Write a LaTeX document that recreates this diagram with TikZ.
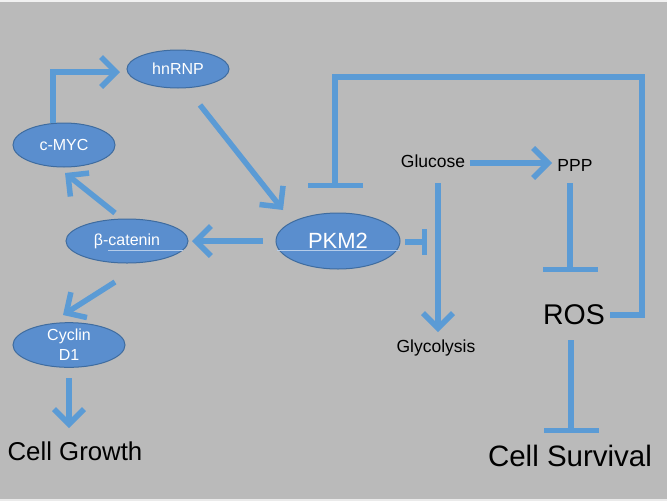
\documentclass[tikz,border=0pt]{standalone}
\usepackage{fontspec}
\setmainfont{Liberation Sans}
\usetikzlibrary{shapes.geometric,arrows.meta,calc}
\definecolor{bg}{HTML}{BABABA}
\definecolor{lineblue}{HTML}{5B9BD5}
\definecolor{ellfill}{HTML}{5A8ECE}
\definecolor{elledge}{HTML}{3F6C9F}
\tikzset{
  oval/.style={ellipse, fill=ellfill, draw=elledge, line width=1pt, inner sep=0pt,
    text=white, font=\fontsize{16}{20}\selectfont, align=center},
  lbl/.style={inner sep=0pt, text=black},
  arr/.style={draw=lineblue, line width=5.5pt, -{Straight Barb[length=15pt,width=30pt]}},
  inh/.style={draw=lineblue, line width=5.5pt, -{Bar[width=55pt]}},
  inhs/.style={draw=lineblue, line width=5.5pt, -{Bar[width=26pt]}},
  glint/.style={draw=white!55!ellfill, line width=0.8pt}
}
\begin{document}
\begin{tikzpicture}[x=1pt,y=-1pt]
\fill[bg] (0,0) rectangle (667,501);
\useasboundingbox (0,0) rectangle (667,501);
\draw[white!80!bg, line width=1.5pt] (0,0.75) -- (667,0.75);
\draw[white!70!bg, line width=2pt] (0,500) -- (667,500);

% nodes
\node[oval, minimum width=102pt, minimum height=38pt] (hnrnp) at (178,69) {hnRNP};
\node[oval, minimum width=102pt, minimum height=44pt] (cmyc) at (64,145) {c-MYC};
\node[oval, minimum width=122pt, minimum height=44pt] (beta) at (127,241) {β-catenin};
\node[oval, minimum width=112pt, minimum height=44pt] (cyclin) at (69,345) {Cyclin\\D1};
\node[oval, minimum width=124pt, minimum height=56pt, font=\fontsize{22}{24}\selectfont] (pkm2) at (338,241) {PKM2};

\node[lbl, font=\fontsize{17.5}{20}\selectfont] (glucose) at (433,161) {Glucose};
\node[lbl, font=\fontsize{17.5}{20}\selectfont] (ppp) at (575,165) {PPP};
\node[lbl, font=\fontsize{17.5}{20}\selectfont] (glyco) at (436,348) {Glycolysis};
\node[lbl, font=\fontsize{28.5}{32}\selectfont] (ros) at (574,315) {ROS};
\node[lbl, font=\fontsize{25.8}{30}\selectfont] (growth) at (75,451) {Cell Growth};
\node[lbl, font=\fontsize{29.5}{34}\selectfont] (survival) at (570,456) {Cell Survival};

% light artefact lines across ellipses
\draw[glint] ($(beta)+(-19,9)$) -- ($(beta)+(56,9)$);
\draw[glint] ($(pkm2)+(-61,9)$) -- ($(pkm2)+(62,9)$);

% connectors
\draw[arr] ($(cmyc)+(-11,-22)$) |- ($(hnrnp)+(-58,3)$);
\draw[arr] ($(hnrnp)+(22,36)$) -- ($(pkm2)+(-55,-31)$);
\draw[arr] ($(beta)+(-12,-28)$) -- ($(cmyc)+(1,28)$);
\draw[arr] ($(pkm2)+(-75,0)$) -- ($(beta)+(65,0)$);
\draw[arr] ($(beta)+(-12,41)$) -- ($(cyclin)+(-6,-30)$);
\draw[arr] ($(cyclin)+(0,33)$) -- ($(growth)+(-6,-23)$);

\draw[arr] ($(glucose)+(37,2)$) -- ($(ppp)+(-23,-2)$);
\draw[arr] ($(glucose)+(5,22)$) -- ($(glyco)+(2,-16)$);
\coordinate (glyline) at ($(pkm2)+(89,1)$);
\draw[inhs] ($(pkm2)+(67,1)$) -- (glyline);

\draw[inh] ($(ppp)+(-5,18)$) -- ($(ros)+(-4,-43)$);
\draw[inh] ($(ros)+(-3,25)$) -- ($(survival)+(1,-23)$);
\draw[inh] ($(ros)+(36,0)$) -| ($(ros)+(68,-238)$) -| ($(pkm2)+(-3,-53)$);
\end{tikzpicture}
\end{document}
